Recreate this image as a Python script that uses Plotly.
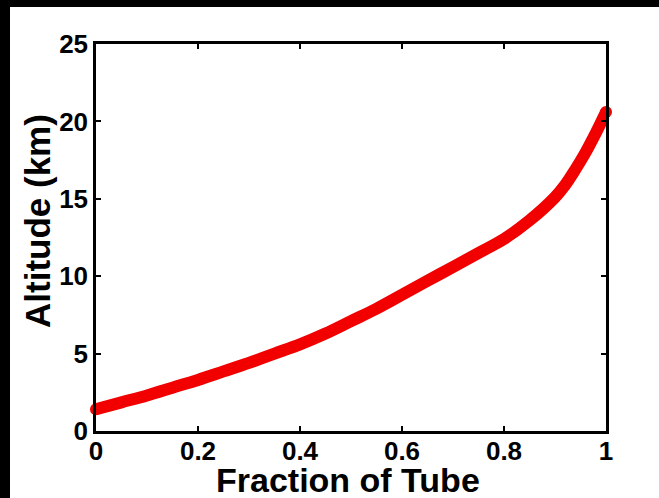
import plotly.graph_objects as go

fraction = [0.0, 0.05, 0.1, 0.15, 0.2, 0.25, 0.3, 0.35, 0.4, 0.45, 0.5, 0.55, 0.6, 0.65,
            0.7, 0.75, 0.8, 0.85, 0.9, 0.92, 0.94, 0.96, 0.98, 1.0]
altitude = [1.4, 1.85, 2.3, 2.8, 3.3, 3.85, 4.4, 5.0, 5.6, 6.3, 7.1, 7.9, 8.8, 9.7,
            10.6, 11.5, 12.4, 13.6, 15.1, 15.9, 16.9, 18.0, 19.25, 20.6]

x_ticks = [0, 0.2, 0.4, 0.6, 0.8, 1]
x_labels = ["0", "0.2", "0.4", "0.6", "0.8", "1"]
y_ticks = [0, 5, 10, 15, 20, 25]
y_labels = ["0", "5", "10", "15", "20", "25"]
x_title = "Fraction of Tube"
y_title = "Altitude (km)"

RED = "#f20000"
FONT = "Liberation Sans, Arial, sans-serif"

W, H = 659, 498
L, R, T, B = 96, 53, 44, 67
pw, ph = W - L - R, H - T - B

def px_x(p):
    return (p - L) / pw

def px_y(p):
    return (H - B - p) / ph

fig = go.Figure()
fig.add_trace(go.Scatter(x=fraction, y=altitude, mode="lines",
                         line=dict(color=RED, width=12, shape="spline", smoothing=1.0),
                         hoverinfo="skip", showlegend=False))
fig.add_trace(go.Scatter(x=[fraction[0], fraction[-1]], y=[altitude[0], altitude[-1]],
                         mode="markers", marker=dict(color=RED, size=12),
                         cliponaxis=False, hoverinfo="skip", showlegend=False))

# black frame strips at the left and top edges
fig.add_shape(type="rect", xref="paper", yref="paper",
              x0=px_x(-5), x1=px_x(10), y0=px_y(H + 5), y1=px_y(-5),
              fillcolor="black", line_width=0, layer="above")
fig.add_shape(type="rect", xref="paper", yref="paper",
              x0=px_x(-5), x1=px_x(W + 5), y0=px_y(7), y1=px_y(-5),
              fillcolor="black", line_width=0, layer="above")

axis_common = dict(showgrid=False, zeroline=False, showline=True, linecolor="black",
                   linewidth=2.5, ticks="inside", ticklen=5, tickwidth=2,
                   tickcolor="black", mirror="ticks",
                   tickfont=dict(family=FONT, size=26, color="black", weight="bold"))

fig.update_xaxes(range=[0, 1], tickmode="array", tickvals=x_ticks, ticktext=x_labels,
                 ticklabelstandoff=-5, **axis_common)
fig.update_yaxes(range=[0, 25], tickmode="array", tickvals=y_ticks, ticktext=y_labels,
                 **axis_common)

fig.add_annotation(text="<b>" + x_title + "</b>", xref="paper", yref="paper",
                   x=px_x(348), y=px_y(480), xanchor="center", yanchor="middle",
                   showarrow=False, font=dict(family=FONT, size=34, color="black"))
fig.add_annotation(text="<b>" + y_title + "</b>", xref="paper", yref="paper",
                   x=px_x(37), y=px_y(221), xanchor="center", yanchor="middle",
                   textangle=-90, showarrow=False,
                   font=dict(family=FONT, size=35, color="black"))

fig.update_layout(width=W, height=H, autosize=False,
                  margin=dict(l=L, r=R, t=T, b=B, autoexpand=False),
                  paper_bgcolor="white", plot_bgcolor="white")

fig.write_html("out.html", config={"displayModeBar": False, "responsive": False},
               post_script="document.body.style.margin='0';document.body.style.overflow='hidden';")
